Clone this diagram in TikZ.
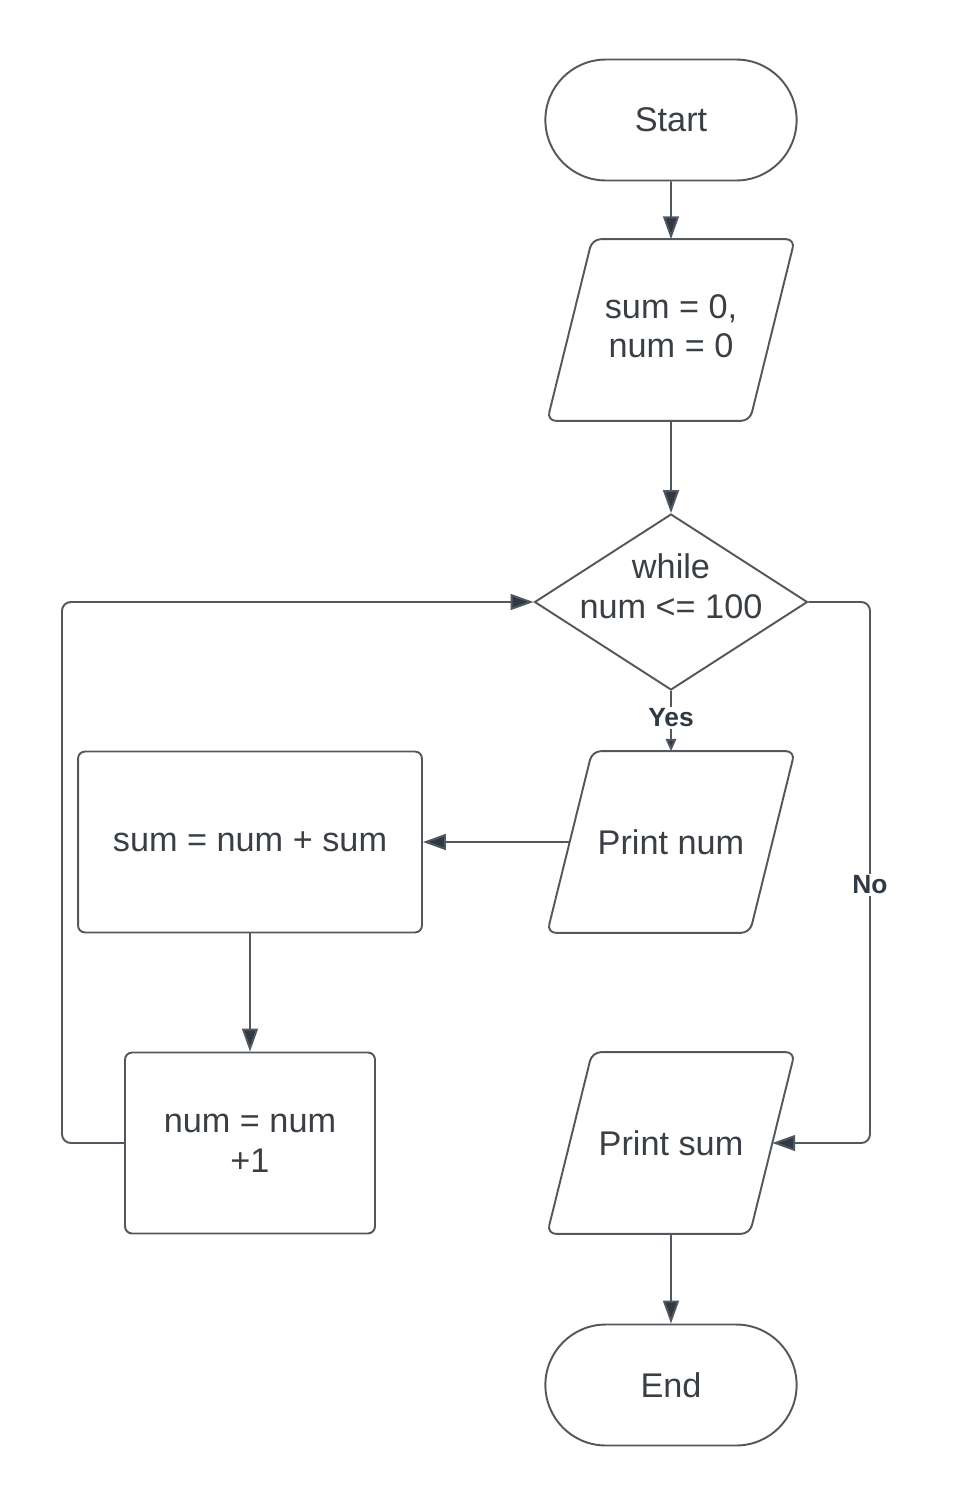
\documentclass[tikz,border=0pt]{standalone}
\usepackage{fontspec}
\setmainfont{Liberation Sans}
\usetikzlibrary{shapes.geometric,shapes.misc,arrows.meta}
\definecolor{linegray}{HTML}{53585E}
\definecolor{txtgray}{HTML}{3A3F45}
\definecolor{tipgray}{HTML}{2F3A44}
% parallelogram drawn round a text node (node width = width at mid height)
\newcommand{\ioshape}[1]{\draw[ioline] ([xshift=0.45cm]#1.north west) -- ([xshift=0.45cm]#1.north east)
  -- ([xshift=-0.45cm]#1.south east) -- ([xshift=-0.45cm]#1.south west) -- cycle;}

\begin{document}
\begin{tikzpicture}[x=0.02cm, y=-0.02cm,
    every node/.style={text=txtgray, font=\fontsize{19.5}{22.7}\selectfont, align=center},
    terminal/.style={rounded rectangle, draw=linegray, line width=1.1pt, minimum width=5.26cm, minimum height=2.42cm},
    iobox/.style={rectangle, minimum width=4.04cm, minimum height=3.62cm, inner sep=0pt},
    ioline/.style={draw=linegray, line width=1.1pt, rounded corners=5pt},
    procbox/.style={rectangle, draw=linegray, line width=1.1pt, rounded corners=4pt, minimum height=3.62cm},
    decbox/.style={diamond, draw=linegray, line width=1.1pt, minimum width=5.46cm, minimum height=3.52cm, inner sep=0pt},
    conn/.style={draw=linegray, line width=1.1pt, -{Triangle[length=13pt,width=9pt,fill=tipgray]}},
    tag/.style={fill=white, inner sep=1pt, font=\fontsize{15}{17}\selectfont\bfseries, text=tipgray}]
  \useasboundingbox (0,0) rectangle (953,1505);

  % main column
  \node[terminal] (start) at (671,120) {Start};
  \node[iobox]    (init)  at (671,330) {\raisebox{3pt}{\begin{tabular}{@{}c@{}}sum = 0,\\num = 0\end{tabular}}};
  \node[decbox, label={[yshift=0.32cm]center:{while\\num <= 100}}] (dec) at (671,602) {};
  \node[iobox]    (pnum)  at (671,842) {Print num};
  \node[iobox]    (psum)  at (671,1143) {Print sum};
  \node[terminal] (stop)  at (671,1385) {End};
  \ioshape{init}
  \ioshape{pnum}
  \ioshape{psum}

  % loop body
  \node[procbox, minimum width=6.88cm] (addsum) at (250,842) {sum = num + sum};
  \node[procbox, minimum width=5.0cm]  (incnum) at (250,1143) {num = num\\+1};

  \coordinate (loopL) at (62,1143);
  \coordinate (noR)   at (870,885);

  \draw[conn] (start) -- (init);
  \draw[conn] (init) -- (dec);
  \draw[conn, -{Triangle[length=7pt,width=6pt,fill=tipgray]}] (dec.south) -- (pnum.north)
      node[tag, pos=0.45] {Yes};
  \draw[conn] (pnum.west) -- (addsum.east);
  \draw[conn] (addsum) -- (incnum);
  \draw[conn, rounded corners=5pt] (incnum.west) -- (loopL) |- (dec.west);
  \draw[conn, rounded corners=5pt] (dec.east) -| (noR) |- (psum.east);
  \node[tag] at (noR) {No};
  \draw[conn] (psum) -- (stop);
\end{tikzpicture}
\end{document}
